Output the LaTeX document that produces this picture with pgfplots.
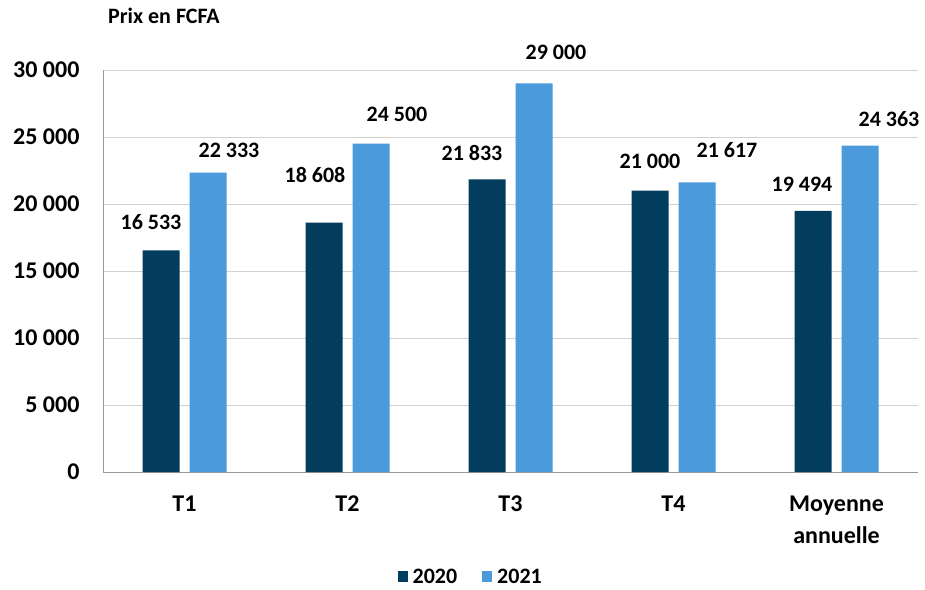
\documentclass[border=0pt]{standalone}
\usepackage{pgfplots}
\pgfplotsset{compat=1.18}
\usepackage{fontspec}
\setmainfont{Carlito}
\definecolor{cdark}{RGB}{3,61,94}
\definecolor{clight}{RGB}{74,154,220}
\pgfplotstableread{
x y dx dy
0 16533 -10 17
1 18608 -9 36
2 21833 -15 15
3 21000 0 18
4 19494 -11 16
}\tabA
\pgfplotstableread{
x y dx dy
0 22333 21 12
1 24500 26 19
2 29000 22 20
3 21617 30 21
4 24363 29 15
}\tabB
\begin{document}
\begin{tikzpicture}
\path[use as bounding box] (0,0) rectangle (925pt,589pt);
\begin{axis}[
  at={(103pt,117pt)}, anchor=south west,
  scale only axis, width=815pt, height=402pt,
  ybar=10pt, bar width=37pt,
  xmin=-0.5, xmax=4.5, ymin=0, ymax=30000,
  xtick={0,1,2,3,4},
  xticklabels={T1,T2,T3,T4,{Moyenne\\annuelle}},
  xticklabel style={align=center, font=\bfseries\fontsize{24}{32}\selectfont, yshift=-20pt},
  ytick={0,5000,...,30000},
  yticklabel style={font=\bfseries\fontsize{24}{24}\selectfont, xshift=-20pt},
  scaled y ticks=false,
  /pgf/number format/.cd, 1000 sep={\ }, assume math mode=true, /pgfplots/.cd,
  major tick length=0pt,
  axis x line*=bottom, axis y line*=left,
  axis line style={draw=black!40, line width=1pt},
  ymajorgrids, grid style={draw=black!18, line width=0.9pt},
  nodes near coords,
  visualization depends on={\thisrow{dx} \as \dx},
  visualization depends on={\thisrow{dy} \as \dy},
  every node near coord/.append style={font=\bfseries\fontsize{22}{22}\selectfont, xshift=\dx pt, yshift=\dy pt},
  title={Prix en FCFA},
  title style={at={(0.002,1.12)}, anchor=west, font=\bfseries\fontsize{22}{22}\selectfont},
  legend columns=2,
  legend style={at={(0.453,-0.261)}, anchor=center, draw=none, font=\bfseries\fontsize{22}{22}\selectfont,
    /tikz/every even column/.append style={column sep=20pt},
    /tikz/every node/.append style={inner xsep=5pt}},
  legend image code/.code={\fill[#1] (0pt,-5pt) rectangle (10pt,6pt);},
]
\addplot[fill=cdark, draw=none] table[x=x,y=y] {\tabA};
\addplot[fill=clight, draw=none] table[x=x,y=y] {\tabB};
\legend{2020,2021}
\end{axis}
\end{tikzpicture}
\end{document}
